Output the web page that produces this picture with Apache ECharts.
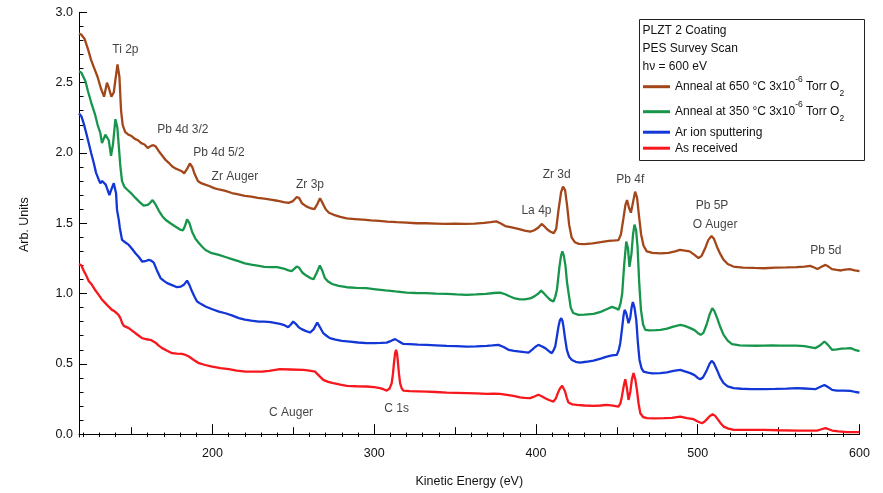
<!DOCTYPE html>
<html>
<head>
<meta charset="utf-8">
<script src="https://cdn.jsdelivr.net/npm/echarts@6/dist/echarts.min.js"></script>
<style>
html,body{margin:0;padding:0;background:#fff;}
#chart{width:883px;height:493px;}
</style>
</head>
<body>
<div id="chart"></div>
<script>
// ---------- data (kinetic energy eV, intensity arb. units) ----------
const anneal650 = [[117.5,2.85],[119,2.84],[121,2.81],[123,2.74],[125,2.66],[127,2.60],[129,2.54],[131,2.46],[133,2.40],[134.8,2.50],[136,2.46],[137.5,2.40],[139,2.43],[140,2.52],[141.3,2.63],[142.5,2.54],[143.5,2.30],[144.5,2.20],[146,2.15],[148,2.13],[150,2.12],[152,2.10],[154,2.09],[156,2.07],[158,2.06],[160,2.035],[162,2.05],[163.5,2.055],[165,2.045],[167,2.01],[169,1.98],[171,1.95],[173,1.93],[175,1.905],[177,1.89],[179,1.88],[181,1.87],[182.5,1.855],[184.5,1.89],[186,1.925],[187.5,1.90],[189,1.85],[191,1.80],[193,1.785],[195.5,1.775],[198,1.765],[201,1.75],[204,1.74],[208,1.73],[212,1.715],[216,1.705],[220,1.695],[224,1.69],[228,1.68],[232,1.675],[236,1.668],[240,1.66],[244,1.65],[247,1.645],[249.5,1.655],[252,1.685],[253.5,1.68],[255.5,1.64],[258,1.62],[261,1.605],[263,1.60],[265,1.64],[266.5,1.678],[268,1.645],[270,1.60],[272,1.575],[275,1.56],[279,1.545],[283,1.535],[288,1.53],[293,1.525],[298,1.52],[303,1.517],[308,1.512],[314,1.508],[320,1.505],[326,1.50],[332,1.50],[338,1.498],[344,1.495],[350,1.497],[356,1.495],[362,1.498],[368,1.503],[372,1.508],[375.5,1.513],[378,1.50],[381,1.48],[385,1.47],[389,1.46],[393,1.447],[396.5,1.44],[399,1.45],[401.5,1.47],[403.5,1.495],[405,1.48],[407,1.455],[409,1.44],[411,1.43],[412.5,1.46],[414,1.60],[415.5,1.72],[416.7,1.76],[418,1.735],[419.3,1.62],[420.5,1.49],[422,1.40],[424,1.365],[426.5,1.353],[430,1.352],[435,1.357],[440,1.365],[445,1.375],[449,1.378],[451,1.38],[452.5,1.42],[454,1.53],[455.3,1.63],[456.3,1.665],[457.5,1.61],[458.7,1.575],[460,1.65],[461.3,1.725],[462.5,1.68],[463.7,1.55],[465,1.42],[466.5,1.34],[468.5,1.30],[472,1.29],[477,1.285],[482,1.29],[486,1.30],[489,1.31],[492,1.305],[495,1.30],[498,1.275],[500.5,1.252],[502.5,1.27],[504.5,1.32],[506.5,1.38],[508.5,1.41],[510,1.39],[511.8,1.335],[514,1.28],[516,1.24],[518.5,1.21],[522,1.192],[528,1.185],[535,1.182],[541,1.18],[548,1.184],[555,1.186],[561,1.188],[566,1.192],[569.5,1.197],[572,1.185],[574,1.175],[576.5,1.19],[579,1.204],[581,1.19],[583,1.174],[586,1.168],[588.5,1.164],[591,1.17],[594,1.174],[597,1.165],[600,1.16]];

const anneal350 = [[117.5,2.58],[119,2.57],[121.5,2.51],[123,2.44],[125,2.36],[127.5,2.27],[129,2.20],[130.7,2.14],[131.7,2.07],[133.8,2.13],[135.9,2.09],[137.3,1.98],[138.5,2.06],[140,2.24],[141.2,2.18],[142.3,2.02],[143.1,1.90],[144.1,1.80],[145.5,1.76],[147.2,1.74],[150,1.71],[152.4,1.68],[155,1.65],[157.5,1.625],[160,1.63],[161.5,1.645],[163,1.665],[164.5,1.64],[166.8,1.59],[169,1.55],[171,1.525],[174,1.50],[177,1.477],[180,1.455],[181.8,1.45],[183,1.48],[184.3,1.527],[185.8,1.50],[187.4,1.44],[189.5,1.39],[191.6,1.36],[193.5,1.335],[195.7,1.31],[199,1.29],[204,1.275],[208,1.26],[212,1.245],[216,1.23],[220,1.215],[224,1.205],[228.7,1.197],[232,1.19],[236,1.188],[240,1.188],[244,1.178],[247,1.165],[249,1.16],[250.5,1.175],[252,1.192],[253.5,1.185],[255.5,1.15],[258,1.128],[260.5,1.11],[262.5,1.102],[264.5,1.15],[266.4,1.20],[268,1.16],[269.5,1.11],[271.5,1.085],[274,1.068],[278,1.055],[283,1.045],[289,1.04],[295,1.038],[301,1.03],[307,1.022],[313,1.015],[320,1.007],[326,1.004],[332,1.003],[338,1.0],[345,0.998],[351,0.994],[357,0.991],[363,0.994],[369,0.998],[374,1.004],[377.8,1.007],[381,0.995],[384,0.979],[387,0.965],[390,0.958],[393,0.958],[396.4,0.965],[399,0.98],[401.5,1.0],[403.2,1.021],[405,1.0],[406.7,0.979],[408.8,0.955],[410.8,0.943],[412,0.98],[413,1.03],[414.5,1.19],[415.5,1.27],[416.3,1.30],[417.2,1.27],[418.2,1.20],[419.2,1.08],[420.2,1.00],[421.5,0.90],[423,0.862],[426.3,0.849],[430,0.85],[435.6,0.856],[440,0.87],[444,0.89],[447,0.905],[449.5,0.895],[451,0.884],[452.3,0.93],[453.3,1.00],[454.5,1.20],[455.8,1.37],[456.9,1.32],[457.8,1.19],[459,1.28],[460,1.42],[460.9,1.49],[461.9,1.45],[462.8,1.33],[463.8,1.08],[464.9,0.884],[466.2,0.78],[467.6,0.742],[470,0.738],[474,0.74],[477,0.742],[481,0.75],[485,0.765],[489.2,0.777],[492,0.77],[495.4,0.754],[498,0.74],[500,0.72],[501.8,0.706],[503.5,0.72],[505.5,0.78],[507.3,0.85],[509,0.896],[510.3,0.875],[512,0.825],[514,0.76],[516,0.706],[518.5,0.665],[521.2,0.64],[526,0.632],[531,0.63],[536,0.629],[541,0.63],[546,0.631],[551,0.63],[556,0.63],[561,0.63],[566,0.626],[570,0.618],[572.7,0.612],[575.5,0.63],[578.3,0.659],[580.5,0.635],[583,0.60],[586,0.603],[589,0.608],[592,0.61],[594.5,0.612],[597,0.60],[600,0.59]];

const arSputter = [[117.5,2.28],[119,2.26],[120.4,2.21],[122,2.14],[123.5,2.07],[125,2.00],[126.6,1.93],[128,1.86],[129.7,1.81],[130.7,1.785],[131.8,1.80],[132.8,1.797],[134,1.775],[134.8,1.75],[136.3,1.70],[137.5,1.74],[139,1.785],[140.4,1.714],[141,1.595],[142.1,1.524],[142.7,1.47],[144.1,1.382],[146,1.365],[148.3,1.346],[150.5,1.315],[152.4,1.287],[154.5,1.26],[156.5,1.228],[158.5,1.23],[160.6,1.24],[162,1.235],[163.7,1.22],[165.5,1.17],[167.9,1.11],[170,1.09],[172,1.074],[175,1.06],[178.1,1.045],[180.5,1.05],[182.3,1.062],[184.3,1.092],[185.8,1.06],[187.4,1.014],[189,0.975],[190.5,0.943],[193,0.925],[195.7,0.908],[199.5,0.89],[204,0.872],[208,0.86],[212,0.845],[216.3,0.825],[220,0.815],[224,0.807],[228.7,0.801],[232,0.80],[236,0.797],[241.7,0.784],[244.5,0.775],[246.8,0.761],[248.5,0.78],[249.9,0.801],[251.5,0.785],[253.3,0.76],[255.1,0.747],[257.5,0.735],[260.3,0.723],[262.5,0.745],[264.8,0.794],[266.5,0.76],[268.5,0.718],[270.5,0.70],[272.6,0.683],[276,0.672],[280,0.663],[285,0.658],[290,0.652],[295.3,0.647],[300,0.648],[304,0.649],[307.7,0.651],[310.5,0.664],[312.9,0.676],[315.2,0.66],[318,0.642],[322,0.64],[327,0.637],[332.5,0.635],[338,0.632],[344.8,0.628],[351,0.626],[357.2,0.623],[363,0.625],[369.6,0.628],[373,0.631],[376.8,0.635],[380,0.62],[383,0.60],[386.5,0.592],[390.2,0.587],[393,0.583],[395.4,0.58],[397.5,0.60],[399.5,0.62],[401.5,0.635],[403.5,0.625],[405.7,0.612],[408,0.59],[409.8,0.576],[411,0.60],[411.9,0.623],[413,0.70],[413.9,0.765],[414.8,0.81],[415.6,0.825],[416.4,0.805],[417,0.765],[418,0.68],[419.1,0.60],[420.5,0.55],[422.2,0.528],[424.5,0.515],[427.3,0.509],[431,0.515],[435.6,0.523],[440,0.537],[443.8,0.552],[447,0.56],[450,0.564],[451.2,0.60],[452.1,0.647],[453.3,0.76],[454.2,0.85],[454.8,0.884],[455.8,0.86],[457.2,0.789],[458.3,0.83],[459.1,0.90],[459.9,0.939],[460.9,0.90],[462,0.813],[463,0.65],[464,0.528],[465.2,0.47],[466.5,0.445],[469,0.437],[472,0.433],[476.9,0.434],[481,0.44],[485,0.45],[489.2,0.457],[492.5,0.445],[495.4,0.434],[498,0.42],[500,0.40],[501.6,0.391],[503.3,0.405],[505.7,0.457],[507.3,0.50],[508.6,0.521],[510,0.505],[511.9,0.457],[514,0.40],[516,0.363],[518.5,0.34],[522.2,0.327],[527,0.323],[533,0.321],[540.8,0.32],[548,0.322],[555,0.324],[561.4,0.327],[566,0.325],[570,0.322],[572.7,0.32],[575.5,0.335],[578.3,0.35],[580.5,0.335],[583.1,0.315],[586,0.31],[590,0.31],[594.4,0.308],[597.5,0.30],[600,0.296]];

const asReceived = [[117.5,1.21],[119,1.20],[120.5,1.16],[121.5,1.14],[123.5,1.09],[125.5,1.062],[127.5,1.025],[129.7,0.991],[131.5,0.96],[133.8,0.932],[136,0.905],[137.9,0.884],[139.5,0.874],[140.4,0.872],[141.8,0.85],[143.1,0.825],[144.2,0.79],[145.2,0.77],[148.3,0.754],[150.5,0.735],[152.4,0.718],[154.5,0.70],[156.5,0.683],[159,0.675],[161.7,0.671],[164.8,0.651],[166.8,0.63],[168.9,0.612],[172,0.593],[175,0.576],[178,0.573],[181.2,0.571],[183.5,0.563],[185.4,0.552],[188.5,0.528],[191.6,0.505],[195.5,0.492],[199.8,0.481],[205,0.47],[210.1,0.462],[215,0.452],[220.5,0.445],[225,0.445],[230.7,0.445],[235,0.45],[241.7,0.462],[248,0.46],[256.1,0.457],[260,0.452],[263.4,0.445],[266,0.415],[268.5,0.386],[271.5,0.372],[274.7,0.363],[279,0.352],[283,0.344],[289,0.341],[295.3,0.339],[300,0.334],[303.6,0.327],[306,0.318],[307.7,0.31],[309.5,0.325],[310.8,0.363],[311.6,0.43],[312.2,0.505],[312.9,0.575],[313.5,0.60],[314.1,0.575],[314.7,0.505],[315.3,0.43],[316,0.363],[317,0.325],[318,0.31],[322,0.306],[327,0.305],[332.5,0.303],[338,0.30],[344.8,0.296],[351,0.294],[357.2,0.292],[363,0.29],[369.6,0.287],[374,0.288],[377.8,0.287],[382,0.28],[386,0.272],[390.2,0.262],[393,0.258],[396.4,0.256],[399,0.268],[401.5,0.28],[403.5,0.27],[405.7,0.256],[408,0.243],[410.8,0.232],[412.3,0.255],[413.5,0.292],[414.8,0.325],[416.2,0.344],[417.2,0.33],[418,0.303],[419,0.26],[420.1,0.225],[422.5,0.212],[425.3,0.208],[430,0.204],[435.6,0.201],[440,0.204],[443.8,0.208],[447.5,0.203],[451,0.196],[452.2,0.22],[453.1,0.267],[454.2,0.34],[455.2,0.391],[456.2,0.33],[457.2,0.244],[458.3,0.30],[459.3,0.39],[460.3,0.434],[461.4,0.39],[462.4,0.315],[463.4,0.22],[464.5,0.149],[466.2,0.122],[468.6,0.114],[473,0.113],[478.9,0.114],[484,0.116],[489.2,0.125],[493.4,0.114],[497.4,0.107],[500,0.09],[502.6,0.078],[504.3,0.09],[505.7,0.107],[507.5,0.13],[509.2,0.142],[510.8,0.13],[512.3,0.107],[514,0.08],[516,0.054],[519,0.04],[522.2,0.031],[530,0.03],[540.8,0.031],[550,0.028],[561.4,0.026],[568,0.026],[573.8,0.026],[576.5,0.035],[579,0.043],[581,0.035],[583.1,0.026],[587,0.02],[592.4,0.014],[597,0.014],[600,0.014]];

const seriesNames = [
  'Anneal at 650 °C 3x10-6 Torr O2',
  'Anneal at 350 °C 3x10-6 Torr O2',
  'Ar ion sputtering',
  'As received'
];

// peak annotations: [text, kinetic energy, intensity]
const peakLabels = [
  ['Ti 2p',146.2,2.733],['Pb 4d 3/2',181.7,2.164],['Pb 4d 5/2',204,2.003],
  ['Zr Auger',213.9,1.832],['Zr 3p',260.3,1.773],['La 4p',400.3,1.59],
  ['Zr 3d',412.8,1.844],['Pb 4f',458.3,1.809],['Pb 5P',508.8,1.624],
  ['O Auger',510.7,1.489],['Pb 5d',579.2,1.306],['C Auger',248.6,0.154],
  ['C 1s',313.9,0.178]
];

// tick values
const xLabelTicks = [200,300,400,500,600];
const xMidTicks = [150,250,350,450,550];
const xMinorTicks = [];
for (let v = 120; v <= 600; v += 10) { if (v % 50 !== 0) xMinorTicks.push(v); }
const yLabelTicks = [0,0.5,1.0,1.5,2.0,2.5,3.0];
const yMinorTicks = [];
for (let i = 0; i <= 30; i++) { if (i % 5 !== 0) yMinorTicks.push(+(i/10).toFixed(1)); }

// ---------- chart ----------
const colors = ['#A3471B', '#17964B', '#1336D6', '#F7171C'];
const FONT = 'Liberation Sans, Arial, sans-serif';
const TXT = '#111';
const X_MIN = 117.5, X_MAX = 600, Y_MIN = -0.02, Y_MAX = 3.0;

function xAx(ticks, len, main) {
  return {
    type: 'value', min: X_MIN, max: X_MAX, position: 'bottom',
    splitLine: {show: false},
    axisLine: {show: !!main, lineStyle: {color: '#000', width: 1}},
    axisTick: {show: true, inside: true, length: len, customValues: ticks, lineStyle: {color: '#000', width: 1}},
    axisLabel: main ? {show: true, customValues: ticks, margin: 10, color: TXT, fontSize: 12.5, fontFamily: FONT} : {show: false},
    name: main ? 'Kinetic Energy (eV)' : '',
    nameLocation: 'middle', nameGap: 38,
    nameTextStyle: {color: TXT, fontSize: 12.5, fontFamily: FONT}
  };
}
function yAx(ticks, len, main) {
  return {
    type: 'value', min: Y_MIN, max: Y_MAX, position: 'left',
    splitLine: {show: false},
    axisLine: {show: !!main, lineStyle: {color: '#000', width: 1}},
    axisTick: {show: true, inside: true, length: len, customValues: ticks, lineStyle: {color: '#000', width: 1}},
    axisLabel: main ? {show: true, customValues: ticks, margin: 6, color: TXT, fontSize: 12.5, fontFamily: FONT,
      formatter: v => v.toFixed(1)} : {show: false},
    name: main ? 'Arb. Units' : '',
    nameLocation: 'middle', nameGap: 48, nameRotate: 90,
    nameTextStyle: {color: TXT, fontSize: 12.5, fontFamily: FONT}
  };
}

const legendRich = {
  t: {fontSize: 12, lineHeight: 23, color: TXT, fontFamily: FONT},
  sup: {fontSize: 8.5, lineHeight: 9.6, verticalAlign: 'top', color: TXT, fontFamily: FONT},
  sub: {fontSize: 8.5, lineHeight: 11, verticalAlign: 'bottom', color: TXT, fontFamily: FONT},
  s: {fontSize: 12, lineHeight: 14, height: 14, color: TXT, fontFamily: FONT}
};
const legendText = {};
legendText[seriesNames[0]] = '{t|Anneal at 650 °C 3x10}{sup|-6}{t| Torr O}{sub|2}';
legendText[seriesNames[1]] = '{t|Anneal at 350 °C 3x10}{sup|-6}{t| Torr O}{sub|2}';
legendText[seriesNames[2]] = '{s|Ar ion sputtering}';
legendText[seriesNames[3]] = '{s|As received}';

const dataSets = [anneal650, anneal350, arSputter, asReceived];
const lineSeries = dataSets.map((d, i) => ({
  name: seriesNames[i], type: 'line', data: d, showSymbol: false, symbol: 'none',
  xAxisIndex: 0, yAxisIndex: 0,
  lineStyle: {color: colors[i], width: 2.3}, itemStyle: {color: colors[i]},
  z: 3
}));

const labelSeries = {
  name: 'peaks', type: 'scatter', xAxisIndex: 0, yAxisIndex: 0,
  symbolSize: 1, itemStyle: {color: 'rgba(0,0,0,0)'}, silent: true, z: 5,
  data: peakLabels.map(p => ({name: p[0], value: [p[1], p[2]]})),
  label: {show: true, position: 'inside', formatter: '{b}', color: TXT, fontSize: 12, fontFamily: FONT}
};

const chart = echarts.init(document.getElementById('chart'), null, {renderer: 'canvas'});
chart.setOption({
  animation: false,
  backgroundColor: '#fff',
  grid: {left: 79, right: 23.5, top: 12.3, bottom: 56, containLabel: false},
  xAxis: [xAx(xLabelTicks, 10, true), xAx(xMidTicks, 7, false), xAx(xMinorTicks, 4.5, false)],
  yAxis: [yAx(yLabelTicks, 8, true), yAx(yMinorTicks, 4.5, false)],
  title: {
    text: 'PLZT 2 Coating\nPES Survey Scan\nhν = 600 eV',
    left: 642.5, top: 22, padding: 0,
    textStyle: {fontSize: 12, fontWeight: 'normal', color: TXT, lineHeight: 18, fontFamily: FONT}
  },
  legend: {
    data: seriesNames,
    orient: 'vertical', left: 643, top: 75.2, padding: 0, itemGap: 2,
    itemWidth: 27, itemHeight: 3, icon: 'rect',
    formatter: name => legendText[name],
    textStyle: {rich: legendRich, fontFamily: FONT},
    selectedMode: false
  },
  graphic: [{
    type: 'rect', shape: {x: 639.5, y: 19.5, width: 225, height: 141},
    style: {fill: 'none', stroke: '#222', lineWidth: 1}, z: 10, silent: true
  }],
  series: [...lineSeries, labelSeries]
});
</script>
</body>
</html>
